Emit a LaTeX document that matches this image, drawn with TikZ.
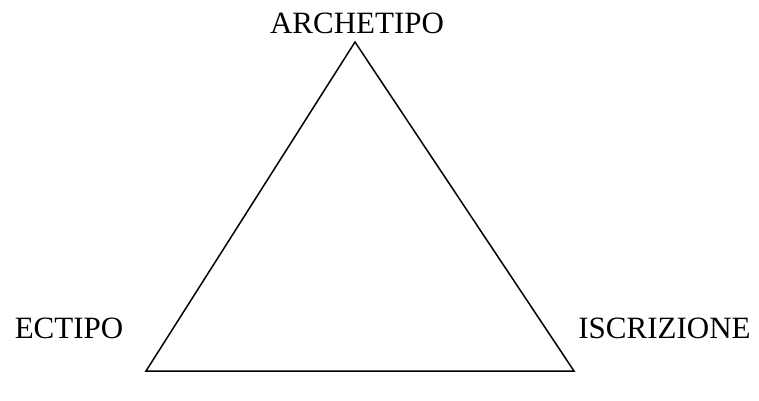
\documentclass[tikz,border=0pt]{standalone}
\usepackage{fontspec}
\setmainfont{Liberation Serif}
\usepackage{tikz}

\begin{document}
\begin{tikzpicture}[
    x=1pt, y=-1pt,
    term/.style={font=\fontsize{31}{37}\selectfont, anchor=base, inner sep=0pt},
    side/.style={line width=1.5pt, line join=miter}
]
\useasboundingbox (0,0) rectangle (759,400);

% Corners
\coordinate (top) at (355,42);
\coordinate (left) at (146,371);
\coordinate (right) at (574,371);

% Triangle
\draw[side] (top) -- (left) -- (right) -- cycle;

% Labels
\node[term] (archetipo) at (357,33.5) {ARCHETIPO};
\node[term] (ectipo) at (69,338) {ECTIPO};
\node[term] (iscrizione) at (664.5,338) {ISCRIZIONE};

\end{tikzpicture}
\end{document}
